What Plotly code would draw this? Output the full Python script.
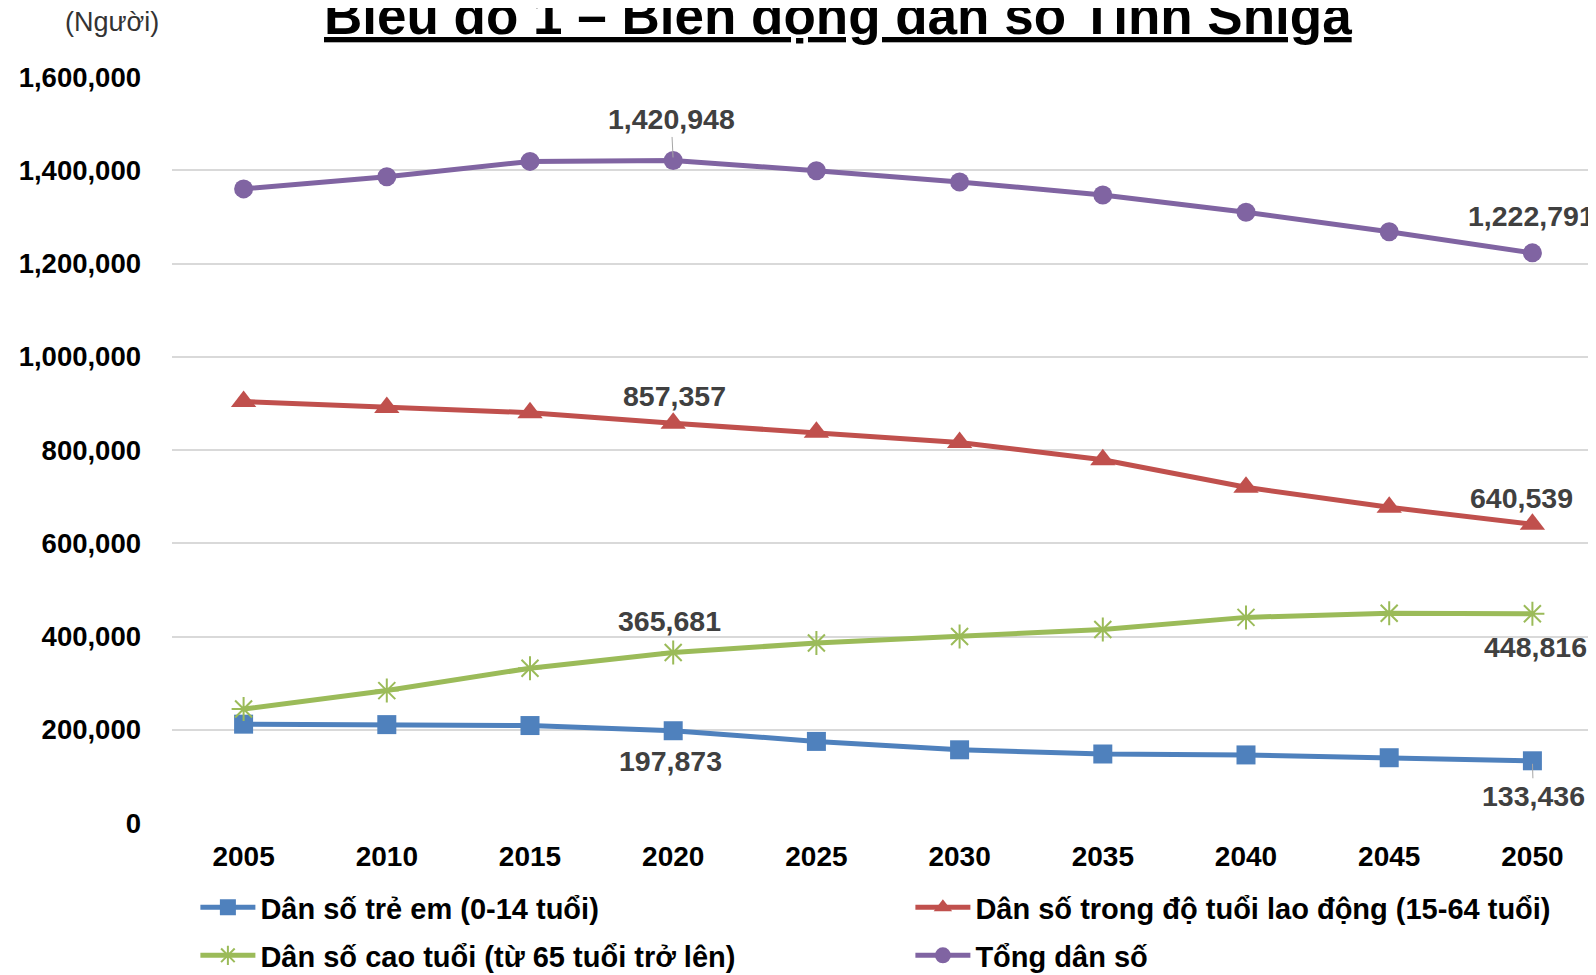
import plotly.graph_objects as go

years = ["2005", "2010", "2015", "2020", "2025", "2030", "2035", "2040", "2045", "2050"]
children = [212000, 211000, 209000, 197873, 175000, 157000, 148000, 146000, 140000, 133436]
working = [904000, 891000, 880000, 857357, 838000, 816000, 779000, 720000, 677000, 640539]
elderly = [244500, 284000, 332000, 365681, 386000, 400000, 415000, 441000, 450000, 448816]
total = [1360000, 1386000, 1419000, 1420948, 1399000, 1375000, 1347000, 1310000, 1268000, 1222791]

names = ["Dân số trẻ em (0-14 tuổi)", "Dân số trong độ tuổi lao động (15-64 tuổi)",
         "Dân số cao tuổi (từ 65 tuổi trở lên)", "Tổng dân số"]
colors = ["#4F81BD", "#C0504D", "#9BBB59", "#8064A2"]
symbols = ["square", "triangle-up", "asterisk-open", "circle"]
msizes = [19, 22, 20, 19]
legends = ["legend", "legend", "legend2", "legend2"]
series = [children, working, elderly, total]

FONT = "Liberation Sans, Arial, sans-serif"
W, H = 1596, 975
OFF = 8  # page body margin offset
L_PX = 171.6 - OFF
top_px, bot_px = 77.4 - OFF, 823.5 - OFF


def px_x(px):
    # px in window coordinates
    return (px - OFF - L_PX) / (W - L_PX)


def px_y(py):
    return (bot_px - (py - OFF)) / (bot_px - top_px)


fig = go.Figure()
for name, col, sym, ms, lg, vals in zip(names, colors, symbols, msizes, legends, series):
    marker = dict(symbol=sym, size=ms, color=col, line=dict(color=col, width=2 if sym == "asterisk-open" else 0))
    fig.add_trace(go.Scatter(x=list(range(len(years))), y=vals, name=name, mode="lines+markers",
                             line=dict(color=col, width=5), marker=marker, legend=lg))

# data labels: (series, index, xshift, yshift, arrow)
labels = [
    (total, 3, -2, 41, True),
    (total, 9, -1, 37, False),
    (working, 3, 1, 27, False),
    (working, 9, -11, 26, False),
    (elderly, 3, -4, 32, False),
    (elderly, 9, 3, -33, False),
    (children, 3, -3, -30, False),
    (children, 9, 1, -35, True),
]
LBL_FONT = dict(family=FONT, size=28.5, color="#404040")
for vals, i, dx, dy, arrow in labels:
    txt = f"<b>{vals[i]:,}</b>"
    if arrow:
        fig.add_annotation(x=i, y=vals[i], xref="x", yref="y", text=txt,
                           showarrow=True, arrowhead=0, arrowwidth=1, arrowcolor="#A6A6A6",
                           ax=dx, ay=-dy, standoff=3, font=LBL_FONT)
    else:
        fig.add_annotation(x=i, y=vals[i], xref="x", yref="y", text=txt,
                           showarrow=False, xshift=dx, yshift=dy, font=LBL_FONT)

fig.add_annotation(x=px_x(838), y=px_y(47), xref="paper", yref="paper",
                   text="<b><u>Biểu đồ 1 – Biến động dân số Tỉnh Shiga</u></b>",
                   showarrow=False, xanchor="center", yanchor="bottom",
                   font=dict(family=FONT, size=53, color="black"))

fig.add_annotation(x=px_x(112), y=px_y(22), xref="paper", yref="paper", text="(Người)",
                   showarrow=False, xanchor="center", yanchor="middle",
                   font=dict(family=FONT, size=27, color="#333333"))

LEG_FONT = dict(family=FONT, size=29, color="black", weight="bold")
leg_common = dict(orientation="h", xanchor="left", yanchor="middle",
                  entrywidth=645, entrywidthmode="pixels", itemwidth=55,
                  font=LEG_FONT, bgcolor="rgba(0,0,0,0)", borderwidth=0)

fig.update_layout(
    width=W, height=H,
    margin=dict(l=L_PX, r=0, t=top_px, b=H - bot_px, pad=0, autoexpand=False),
    paper_bgcolor="white", plot_bgcolor="white",
    showlegend=True,
    legend=dict(x=px_x(195), y=px_y(908), **leg_common),
    legend2=dict(x=px_x(195), y=px_y(956), **leg_common),
    xaxis=dict(tickmode="array", tickvals=list(range(len(years))), ticktext=years,
               range=[-0.5, 9.5], showgrid=False, showline=False, zeroline=False,
               ticks="", tickfont=dict(family=FONT, size=28, color="black", weight="bold"),
               ticklabelstandoff=14),
    yaxis=dict(range=[0, 1600000], dtick=200000, tickformat=",d", showgrid=True,
               gridcolor="#D9D9D9", gridwidth=2, zeroline=False, showline=False, ticks="",
               tickfont=dict(family=FONT, size=27.5, color="black", weight="bold"),
               ticklabelstandoff=30),
)

fig.write_html("out.html")
